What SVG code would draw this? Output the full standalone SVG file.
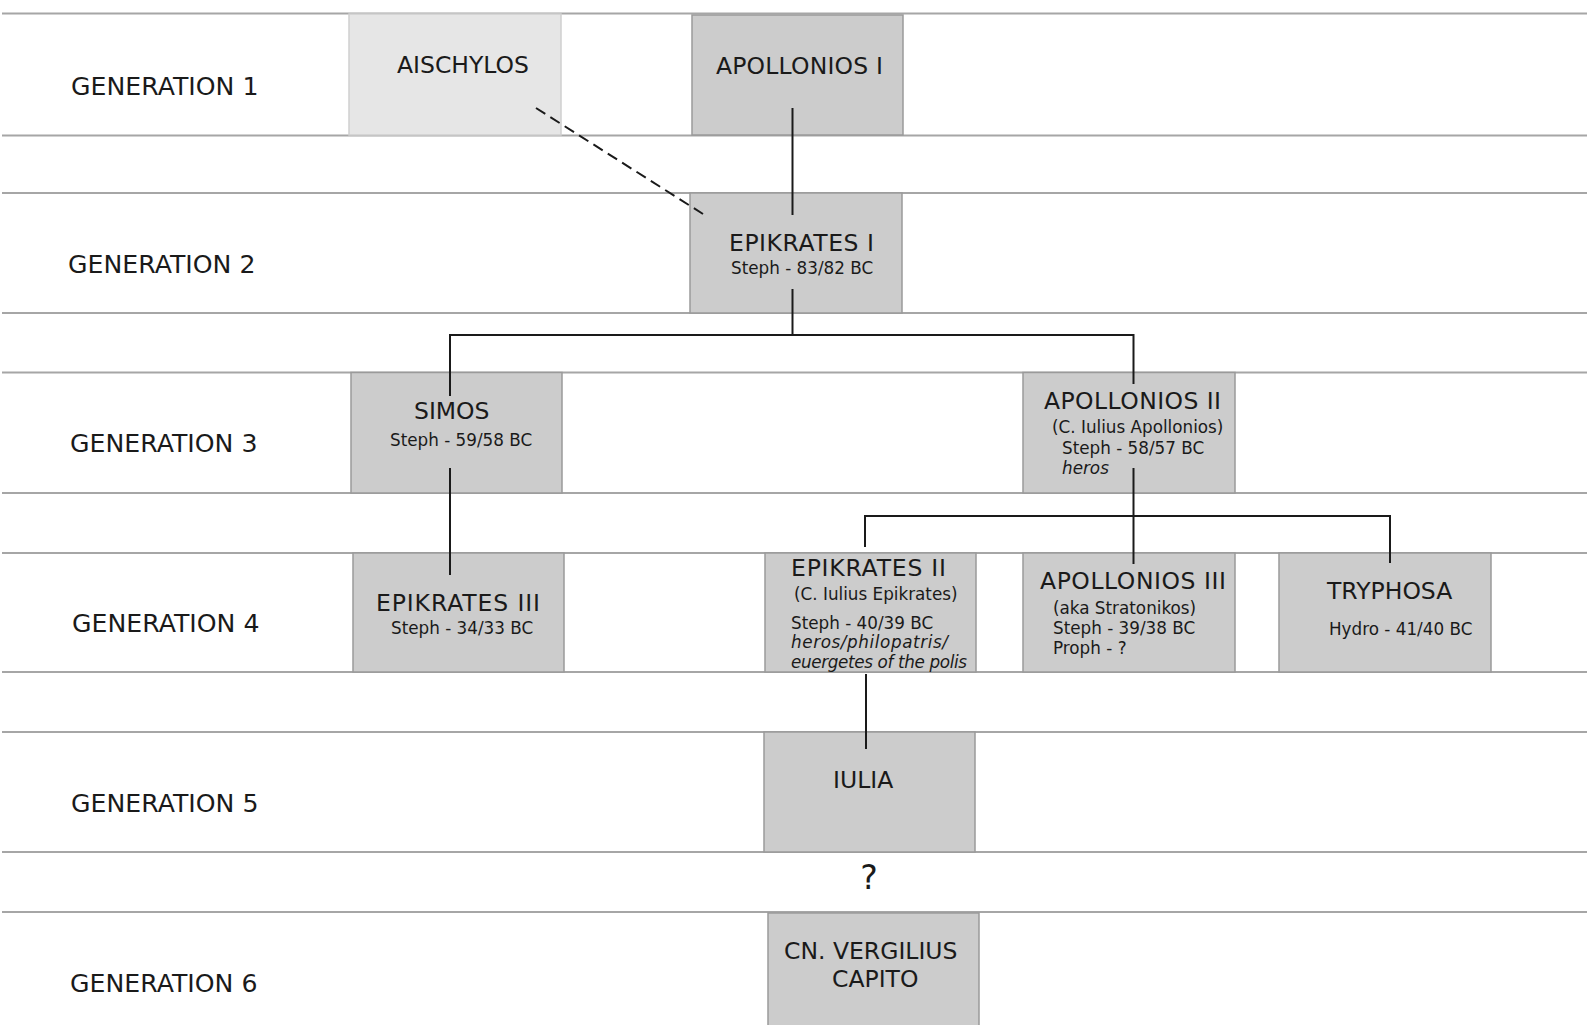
<svg xmlns="http://www.w3.org/2000/svg" width="1587" height="1025" viewBox="0 0 1587 1025">
<style>
.row{stroke:#a6a6a6;stroke-width:2;fill:none}
.box{fill:#cccccc;stroke:#9a9a9a;stroke-width:1.5}
.boxl{fill:#e6e6e6;stroke:#cfcfcf;stroke-width:1.5}
.gen{font-family:"DejaVu Sans",Verdana,sans-serif;font-size:25.2px;fill:#1a1a1a}
.t{font-family:"DejaVu Sans",Verdana,sans-serif;font-size:23.5px;fill:#1a1a1a}
.s{font-family:"DejaVu Sans",Verdana,sans-serif;font-size:16.8px;fill:#1a1a1a}
.i{font-style:italic}
.c{stroke:#1a1a1a;stroke-width:2;fill:none}
.d{stroke-dasharray:11,6}
</style>
<rect width="1587" height="1025" fill="#ffffff"/>
<g id="rows">
<line class="row" x1="2" y1="13.5" x2="1587" y2="13.5"/>
<line class="row" x1="2" y1="135.5" x2="1587" y2="135.5"/>
<line class="row" x1="2" y1="193" x2="1587" y2="193"/>
<line class="row" x1="2" y1="313" x2="1587" y2="313"/>
<line class="row" x1="2" y1="372.5" x2="1587" y2="372.5"/>
<line class="row" x1="2" y1="493" x2="1587" y2="493"/>
<line class="row" x1="2" y1="553" x2="1587" y2="553"/>
<line class="row" x1="2" y1="672" x2="1587" y2="672"/>
<line class="row" x1="2" y1="732" x2="1587" y2="732"/>
<line class="row" x1="2" y1="852" x2="1587" y2="852"/>
<line class="row" x1="2" y1="912" x2="1587" y2="912"/>
</g>
<g id="labels">
<text class="gen" x="71" y="95">GENERATION 1</text>
<text class="gen" x="68" y="273">GENERATION 2</text>
<text class="gen" x="70" y="452">GENERATION 3</text>
<text class="gen" x="72" y="632">GENERATION 4</text>
<text class="gen" x="71" y="812">GENERATION 5</text>
<text class="gen" x="70" y="992">GENERATION 6</text>
</g>
<g id="aischylos"><rect class="boxl" x="349" y="14" width="212" height="121"/><text class="t" x="397" y="73">AISCHYLOS</text></g>
<g id="apollonios1"><rect class="box" x="692" y="15" width="211" height="120"/><text class="t" x="716" y="74" textLength="167" lengthAdjust="spacing">APOLLONIOS I</text></g>
<g id="epikrates1"><rect class="box" x="690" y="193" width="212" height="120"/><text class="t" x="729" y="251" textLength="145" lengthAdjust="spacing">EPIKRATES I</text><text class="s" x="731" y="274">Steph - 83/82 BC</text></g>
<g id="simos"><rect class="box" x="351" y="372.5" width="211" height="120.5"/><text class="t" x="414" y="419">SIMOS</text><text class="s" x="390" y="446">Steph - 59/58 BC</text></g>
<g id="apollonios2"><rect class="box" x="1023" y="372.5" width="212" height="120.5"/><text class="t" x="1044" y="409" textLength="177" lengthAdjust="spacing">APOLLONIOS II</text><text class="s" x="1052" y="433">(C. Iulius Apollonios)</text><text class="s" x="1062" y="454">Steph - 58/57 BC</text><text class="s i" x="1062" y="474">heros</text></g>
<g id="epikrates3"><rect class="box" x="353" y="553" width="211" height="119"/><text class="t" x="376" y="611" textLength="164" lengthAdjust="spacing">EPIKRATES III</text><text class="s" x="391" y="634">Steph - 34/33 BC</text></g>
<g id="epikrates2"><rect class="box" x="765" y="553" width="211" height="119"/><text class="t" x="791" y="576" textLength="155" lengthAdjust="spacing">EPIKRATES II</text><text class="s" x="794" y="600">(C. Iulius Epikrates)</text><text class="s" x="791" y="629">Steph - 40/39 BC</text><text class="s i" x="791" y="648" textLength="157" lengthAdjust="spacing">heros/philopatris/</text><text class="s i" x="791" y="668" textLength="176" lengthAdjust="spacing">euergetes of the polis</text></g>
<g id="apollonios3"><rect class="box" x="1023" y="553" width="212" height="119"/><text class="t" x="1040" y="589" textLength="186" lengthAdjust="spacing">APOLLONIOS III</text><text class="s" x="1053" y="614">(aka Stratonikos)</text><text class="s" x="1053" y="634">Steph - 39/38 BC</text><text class="s" x="1053" y="654">Proph - ?</text></g>
<g id="tryphosa"><rect class="box" x="1279" y="553" width="212" height="119"/><text class="t" x="1327" y="599">TRYPHOSA</text><text class="s" x="1329" y="635">Hydro - 41/40 BC</text></g>
<g id="iulia"><rect class="box" x="764" y="732" width="211" height="120"/><text class="t" x="833" y="788">IULIA</text></g>
<text class="t" x="869" y="889" text-anchor="middle" style="font-size:33px">?</text>
<g id="vergilius"><rect class="box" x="768" y="913" width="211" height="116"/><text class="t" x="784" y="959">CN. VERGILIUS</text><text class="t" x="832" y="987">CAPITO</text></g>
<g id="connectors">
<line class="c" x1="792.5" y1="108" x2="792.5" y2="215"/>
<line class="c d" x1="536" y1="108" x2="703" y2="214"/>
<polyline class="c" points="450,396 450,335 1133.5,335 1133.5,384"/>
<line class="c" x1="792.5" y1="289" x2="792.5" y2="335"/>
<line class="c" x1="450" y1="468" x2="450" y2="575"/>
<line class="c" x1="1133.5" y1="468" x2="1133.5" y2="564"/>
<polyline class="c" points="865,547 865,516 1390,516 1390,563"/>
<line class="c" x1="866" y1="674" x2="866" y2="749"/>
</g>
</svg>
